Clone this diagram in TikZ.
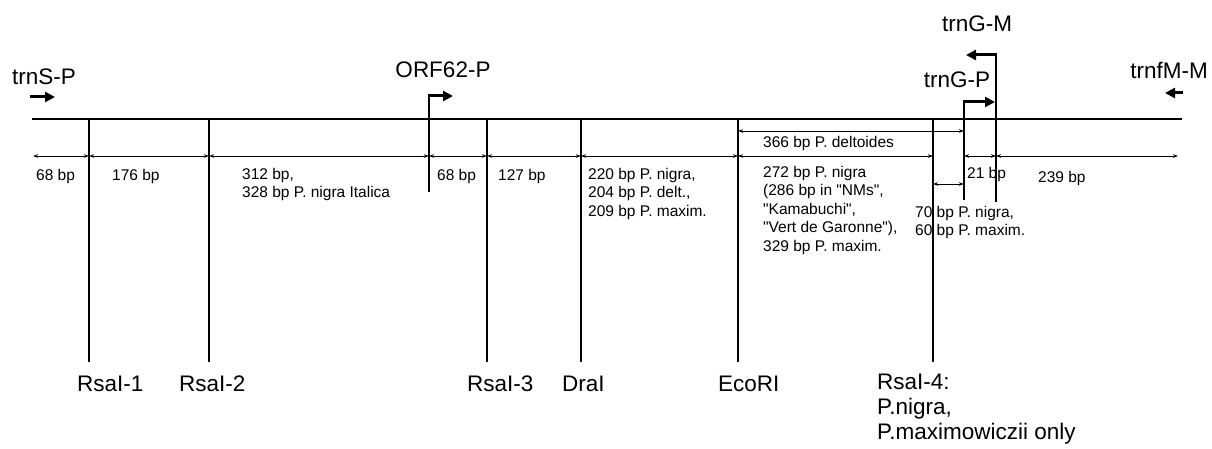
\documentclass[tikz,border=0pt]{standalone}
\usepackage{fontspec}
\setmainfont{Liberation Sans}[Ligatures=TeXOff]
\usetikzlibrary{arrows.meta}
\begin{document}
\begin{tikzpicture}[x=1pt,y=-1pt,
  big/.style={font=\fontsize{22.5}{25}\selectfont, inner sep=0},
  bottomlab/.style={font=\fontsize{22.5}{25}\selectfont, inner sep=0, anchor=north west, align=left, execute at begin node=\strut},
  small/.style={font=\fontsize{15.5}{18.5}\selectfont, inner sep=0, anchor=north west, align=left, execute at begin node=\strut},
  site/.style={line width=1.3pt},
  mainline/.style={line width=1.5pt},
  dim/.style={line width=0.9pt, {Stealth[length=5pt,width=3.5pt]}-{Stealth[length=5pt,width=3.5pt]}},
  prom/.style={line width=3pt, -{Triangle[length=10pt,width=10pt]}},
  ]
\useasboundingbox (0,0) rectangle (1212,449);

% main line
\coordinate (L) at (32,119);
\coordinate (R) at (1182,119);
\draw[mainline] (L) -- (R);

% restriction sites
\foreach \n/\x in {s1/89,s2/209,s3/487,s4/581,s5/738,s6/933}{
  \coordinate (\n t) at (\x,119);
  \coordinate (\n b) at (\x,362);
  \draw[site] (\n t) -- (\n b);
}

% promoter / bent arrows
\coordinate (o1b) at (429,192); \coordinate (o1t) at (429,96); \coordinate (o1h) at (453,96);
\coordinate (gpb) at (964,200); \coordinate (gpt) at (964,102); \coordinate (gph) at (995,102);
\coordinate (gmb) at (996,202); \coordinate (gmt) at (996,55); \coordinate (gmh) at (966,55);
\draw[site] (o1b) -- ([yshift=1.5pt]o1t);
\draw[prom] ([xshift=-0.65pt]o1t) -- (o1h);
\draw[site] (gpb) -- ([yshift=1.5pt]gpt);
\draw[prom] ([xshift=-0.65pt]gpt) -- (gph);
\draw[site] (gmb) -- ([yshift=1.5pt]gmt);
\draw[prom] ([xshift=0.65pt]gmt) -- (gmh);

% free promoter arrows
\coordinate (ts1) at (30,97); \coordinate (ts2) at (55,97);
\draw[prom] (ts1) -- (ts2);
\coordinate (tf1) at (1183,93); \coordinate (tf2) at (1165,93);
\draw[prom] (tf1) -- (tf2);

% dimension line
\coordinate (dL) at (33,156);
\coordinate (dR) at (1178,156);
\draw[dim] (dL) -- (dL -| s1t);
\draw[dim] (dL -| s1t) -- (dL -| s2t);
\draw[dim] (dL -| s2t) -- (dL -| o1t);
\draw[dim] (dL -| o1t) -- (dL -| s3t);
\draw[dim] (dL -| s3t) -- (dL -| s4t);
\draw[dim] (dL -| s4t) -- (dL -| s5t);
\draw[dim] (dL -| s5t) -- (dL -| s6t);
\draw[dim] (dL -| gpt) -- (dL -| gmt);
\draw[dim] (dL -| gmt) -- (dR);
\coordinate (d3) at (0,131);
\draw[dim] (s5t |- d3) -- (gpt |- d3);
\coordinate (d7) at (0,184);
\draw[dim] (s6t |- d7) -- (gpt |- d7);

% top labels
\node[big] (trnSP) at (44,77) {trnS-P};
\node[big] (orf) at (443,70) {ORF62-P};
\node[big] (trnGM) at (977,24) {trnG-M};
\node[big] (trnGP) at (957,80) {trnG-P};
\node[big] (trnfM) at (1169,70) {trnfM-M};

% segment labels
\node[small] (l1) at (36,167.6) {68 bp};
\node[small] (l2) at (112,167.6) {176 bp};
\node[small] (l3) at (242,167.6) {312 bp,\\328 bp P. nigra Italica};
\node[small] (l4) at (437,167.6) {68 bp};
\node[small] (l5) at (498,167.6) {127 bp};
\node[small] (l6) at (588,167.6) {220 bp P. nigra,\\204 bp P. delt.,\\209 bp P. maxim.};
\node[small] (l7) at (763,165.6) {272 bp P. nigra\\(286 bp in "NMs",\\"Kamabuchi",\\"Vert de Garonne"),\\329 bp P. maxim.};
\node[small] (l8) at (763,134.6) {366 bp P. deltoides};
\node[small] (l9) at (915,205.6) {70 bp P. nigra,\\60 bp P. maxim.};
\node[small] (l10) at (967,165.6) {21 bp};
\node[small] (l11) at (1038,169.6) {239 bp};

% bottom labels
\node[bottomlab] (b1) at (77,373.5) {RsaI-1};
\node[bottomlab] (b2) at (179,373.5) {RsaI-2};
\node[bottomlab] (b3) at (467,373.5) {RsaI-3};
\node[bottomlab] (b4) at (562,373.5) {DraI};
\node[bottomlab] (b5) at (718,373.5) {EcoRI};
\node[bottomlab] (b6) at (877,373.5) {RsaI-4:\\P.nigra,\\P.maximowiczii only};
\end{tikzpicture}
\end{document}
